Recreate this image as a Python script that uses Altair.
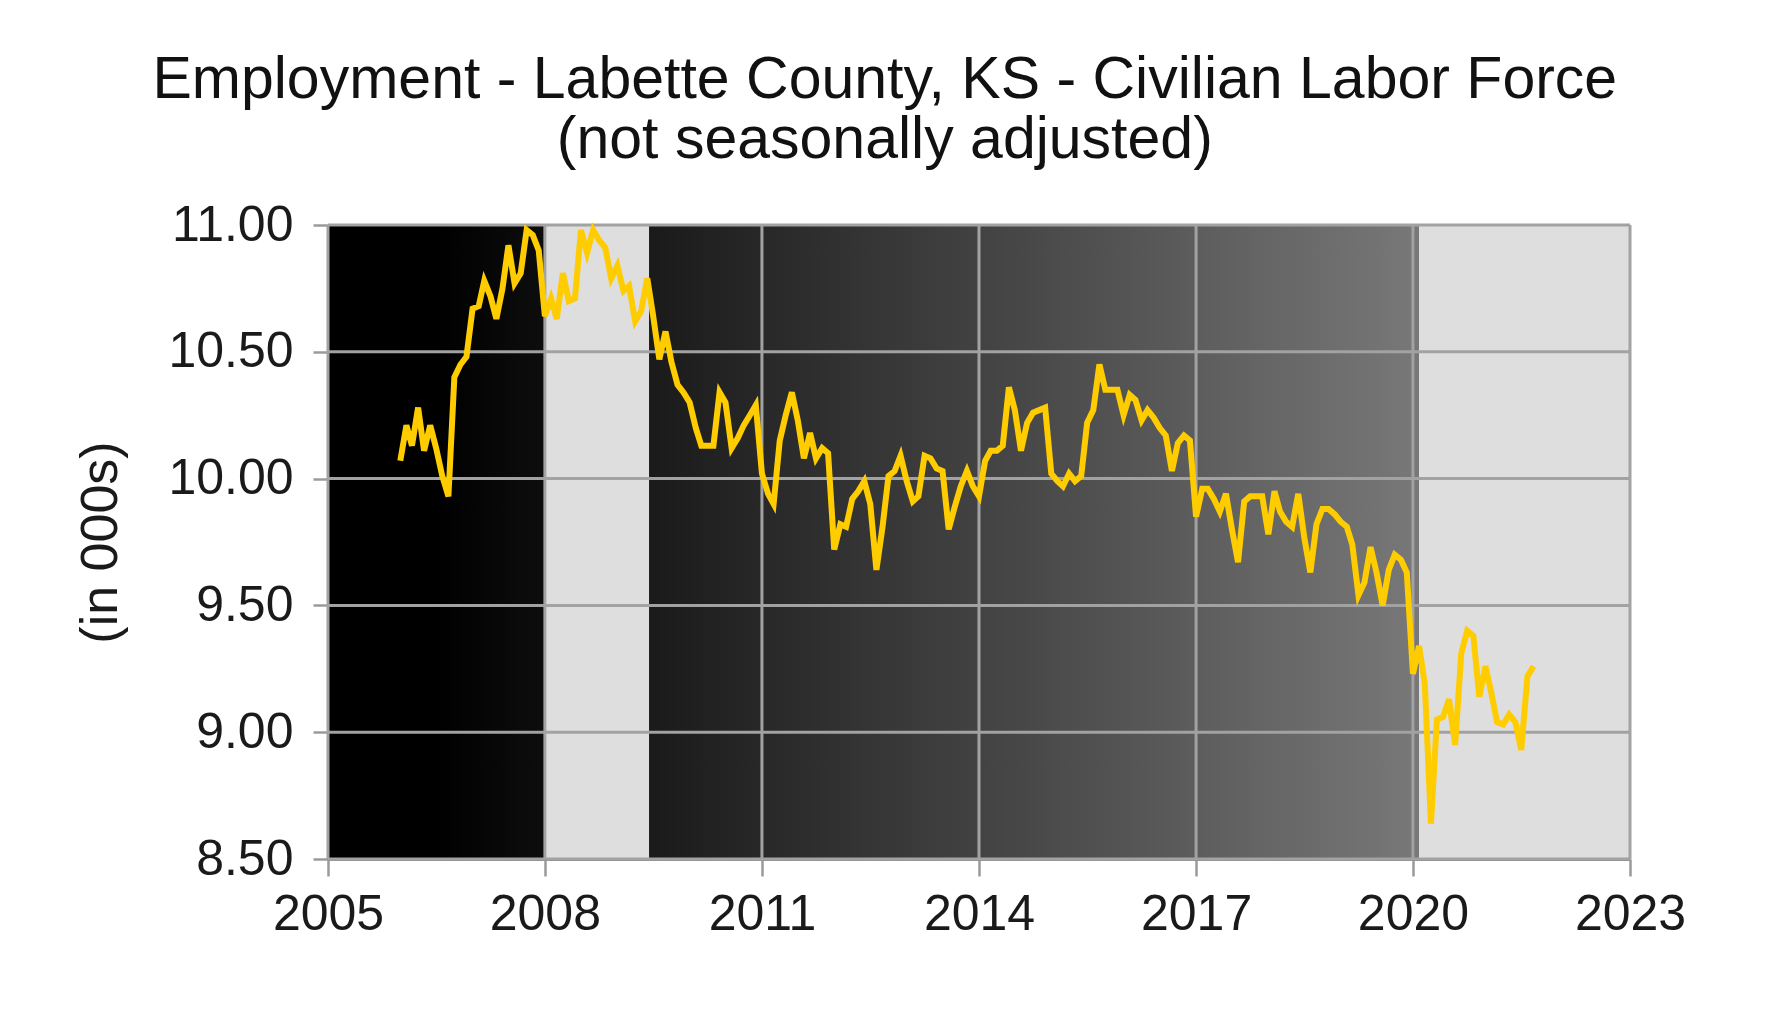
import altair as alt
import pandas as pd

# Monthly values (thousands), Jan 2006 .. Sep 2021
values = [
    10.07, 10.21, 10.13, 10.28, 10.11, 10.21, 10.12, 10.01, 9.93, 10.40, 10.45, 10.48,
    10.67, 10.68, 10.78, 10.72, 10.63, 10.75, 10.92, 10.77, 10.81, 10.98, 10.96, 10.90,
    10.64, 10.71, 10.63, 10.81, 10.70, 10.71, 10.98, 10.89, 10.98, 10.94, 10.91, 10.79,
    10.84, 10.74, 10.76, 10.62, 10.66, 10.79, 10.64, 10.47, 10.58, 10.46, 10.37, 10.34,
    10.30, 10.20, 10.13, 10.13, 10.13, 10.34, 10.30, 10.12, 10.16, 10.21, 10.25, 10.29,
    10.02, 9.94, 9.90, 10.15, 10.25, 10.34, 10.23, 10.08, 10.18, 10.08, 10.12, 10.10,
    9.72, 9.82, 9.81, 9.92, 9.95, 9.99, 9.90, 9.64, 9.81, 10.01, 10.03, 10.09,
    9.99, 9.91, 9.93, 10.09, 10.08, 10.04, 10.03, 9.80, 9.89, 9.97, 10.03, 9.97,
    9.93, 10.07, 10.11, 10.11, 10.13, 10.36, 10.27, 10.11, 10.22, 10.26, 10.27, 10.28,
    10.02, 9.99, 9.97, 10.02, 9.99, 10.01, 10.22, 10.27, 10.45, 10.35, 10.35, 10.35,
    10.25, 10.33, 10.31, 10.23, 10.27, 10.24, 10.20, 10.17, 10.03, 10.14, 10.17, 10.15,
    9.85, 9.96, 9.96, 9.92, 9.87, 9.94, 9.80, 9.67, 9.91, 9.93, 9.93, 9.93,
    9.78, 9.95, 9.87, 9.83, 9.81, 9.94, 9.77, 9.63, 9.82, 9.88, 9.88, 9.86,
    9.83, 9.81, 9.74, 9.54, 9.59, 9.73, 9.63, 9.50, 9.64, 9.70, 9.68, 9.63,
    9.23, 9.34, 9.19, 8.64, 9.05, 9.06, 9.13, 8.95, 9.31, 9.40, 9.38, 9.14,
    9.26, 9.15, 9.04, 9.03, 9.07, 9.04, 8.93, 9.22, 9.26,
]
first_month = "2006-01-01"

# Shaded periods (light bands) and the dark gradient backdrop
band_start = ["2008-01-01", "2020-02-01"]
band_end = ["2009-06-10", "2023-01-01"]
backdrop_start = ["2005-01-01"]
backdrop_end = ["2020-02-01"]

x_tick_years = [2005, 2008, 2011, 2014, 2017, 2020, 2023]
y_ticks = [8.5, 9.0, 9.5, 10.0, 10.5, 11.0]

title_lines = ["Employment - Labette County, KS - Civilian Labor Force",
               "(not seasonally adjusted)"]
y_title = "(in 000s)"

FONT = "Liberation Sans"
W, H = 1302, 634

line_df = pd.DataFrame({
    "date": pd.date_range(first_month, periods=len(values), freq="MS").strftime("%Y-%m-%d"),
    "value": values,
})
band_df = pd.DataFrame({"start": band_start, "end": band_end,
                        "top": [y_ticks[-1]] * len(band_start),
                        "bot": [y_ticks[0]] * len(band_start)})
back_df = pd.DataFrame({"start": backdrop_start, "end": backdrop_end,
                        "top": [y_ticks[-1]], "bot": [y_ticks[0]]})
xgrid_df = pd.DataFrame({"date": [f"{y}-01-01" for y in x_tick_years]})
ygrid_df = pd.DataFrame({"v": y_ticks})

x_scale = alt.Scale(domain=[f"{x_tick_years[0]}-01-01", f"{x_tick_years[-1]}-01-01"])
y_scale = alt.Scale(domain=[y_ticks[0], y_ticks[-1]], nice=False, zero=False)

x_axis = alt.Axis(
    values=[alt.DateTime(year=y) for y in x_tick_years], format="%Y", title=None,
    grid=False, labelFont=FONT, labelFontSize=50, labelColor="#1a1a1a",
    tickSize=17, tickColor="#9a9a9a", tickWidth=2.5, labelPadding=13,
    domainColor="#8a8a8a", domainWidth=3, labelOverlap=False, labelFlush=False,
)
y_axis = alt.Axis(
    values=y_ticks, format=".2f", title=y_title, grid=False,
    labelFont=FONT, labelFontSize=50, labelColor="#1a1a1a",
    tickSize=15, tickColor="#9a9a9a", tickWidth=2.5, labelPadding=20,
    domainColor="#8a8a8a", domainWidth=3,
    titleFont=FONT, titleFontSize=52, titleFontWeight="normal", titleColor="#1a1a1a",
    titleX=-228, titleY=H / 2, titleAlign="center", titleBaseline="middle", titleAngle=270,
)

gradient = alt.Gradient(
    gradient="linear", x1=0, x2=1, y1=0, y2=0,
    stops=[
        alt.GradientStop(offset=0.0, color="#000000"),
        alt.GradientStop(offset=0.1, color="#000000"),
        alt.GradientStop(offset=1.0, color="#787878"),
    ],
)

backdrop = alt.Chart(back_df).mark_rect(fill=gradient).encode(
    x=alt.X("start:T", scale=x_scale, axis=x_axis),
    x2="end:T",
    y=alt.Y("top:Q", scale=y_scale, axis=y_axis),
    y2="bot:Q",
)
bands = alt.Chart(band_df).mark_rect(fill="#dedede").encode(
    x=alt.X("start:T", scale=x_scale), x2="end:T",
    y=alt.Y("top:Q", scale=y_scale), y2="bot:Q",
)
xgrid = alt.Chart(xgrid_df).mark_rule(color="#a2a2a2", strokeWidth=3).encode(
    x=alt.X("date:T", scale=x_scale),
)
ygrid = alt.Chart(ygrid_df).mark_rule(color="#a2a2a2", strokeWidth=3).encode(
    y=alt.Y("v:Q", scale=y_scale),
)
line = alt.Chart(line_df).mark_line(color="#ffcc00", strokeWidth=6, strokeJoin="miter").encode(
    x=alt.X("date:T", scale=x_scale),
    y=alt.Y("value:Q", scale=y_scale),
)

chart = alt.layer(backdrop, bands, xgrid, ygrid, line).properties(
    width=W, height=H,
    autosize=alt.AutoSizeParams(type="none"),
    padding={"left": 320, "top": 217, "right": 130, "bottom": 150},
    background="white",
    title=alt.TitleParams(
        text=title_lines, font=FONT, fontSize=59, fontWeight="normal", color="#111111",
        anchor="middle", frame="bounds", lineHeight=60, offset=30, dx=5,
    ),
).configure_view(stroke=None)

chart.save("out.html", embed_options={"renderer": "svg", "actions": False})
